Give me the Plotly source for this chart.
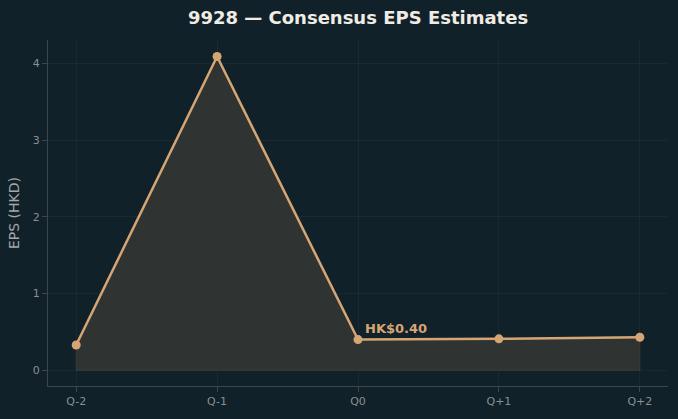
import plotly.graph_objects as go

quarters = ["Q-2", "Q-1", "Q0", "Q+1", "Q+2"]
eps = [0.33, 4.09, 0.40, 0.41, 0.43]
label_text = "HK$0.40"
label_idx = 2

BG = "#10212a"
LINE = "#d6a574"
GRID = "rgba(255,255,255,0.04)"
AX = "#3b4649"
TICK = "#8a8f90"

xs = list(range(len(quarters)))
fig = go.Figure()
# fill polygon (area under curve to zero)
poly_x = xs + [xs[-1], xs[0], xs[0]]
poly_y = eps + [0, 0, eps[0]]
fig.add_trace(go.Scatter(x=poly_x, y=poly_y, mode="lines", fill="toself",
                         fillcolor="#2f3433", line=dict(color="#3d3b35", width=1),
                         hoverinfo="skip", showlegend=False))
fig.add_trace(go.Scatter(x=xs, y=eps, mode="lines+markers",
                         line=dict(color=LINE, width=2.5),
                         marker=dict(color=LINE, size=9),
                         showlegend=False))
fig.add_annotation(x=xs[label_idx], y=eps[label_idx], text="<b>" + label_text + "</b>",
                   showarrow=False, xanchor="left", yanchor="bottom",
                   xshift=5, yshift=2,
                   font=dict(family="DejaVu Sans", size=13, color=LINE))

fig.update_layout(
    width=678, height=419,
    paper_bgcolor=BG, plot_bgcolor=BG,
    margin=dict(l=48, r=10, t=40, b=33),
    title=dict(text="<b>9928 — Consensus EPS Estimates</b>", x=0.5, xref="paper",
               xanchor="center", y=0.957, yanchor="middle",
               font=dict(family="DejaVu Sans", size=18, color="#f0ece4")),
    font=dict(family="DejaVu Sans", color=TICK),
)
fig.update_xaxes(range=[-0.2, 4.2], tickmode="array", tickvals=xs, ticktext=quarters,
                 showgrid=True, gridcolor=GRID, zeroline=False,
                 showline=True, linecolor=AX, linewidth=1,
                 ticks="outside", ticklen=5, tickcolor=AX,
                 tickfont=dict(size=11, color=TICK))
fig.update_yaxes(range=[-0.205, 4.305], tickvals=[0, 1, 2, 3, 4],
                 showgrid=True, gridcolor=GRID, zeroline=False,
                 showline=True, linecolor=AX, linewidth=1,
                 ticks="outside", ticklen=5, tickcolor=AX,
                 tickfont=dict(size=11, color=TICK),
                 title=dict(text="EPS (HKD)", font=dict(family="DejaVu Sans", size=14, color="#a4a8a8"),
                            standoff=9))

fig.write_html("out.html")
